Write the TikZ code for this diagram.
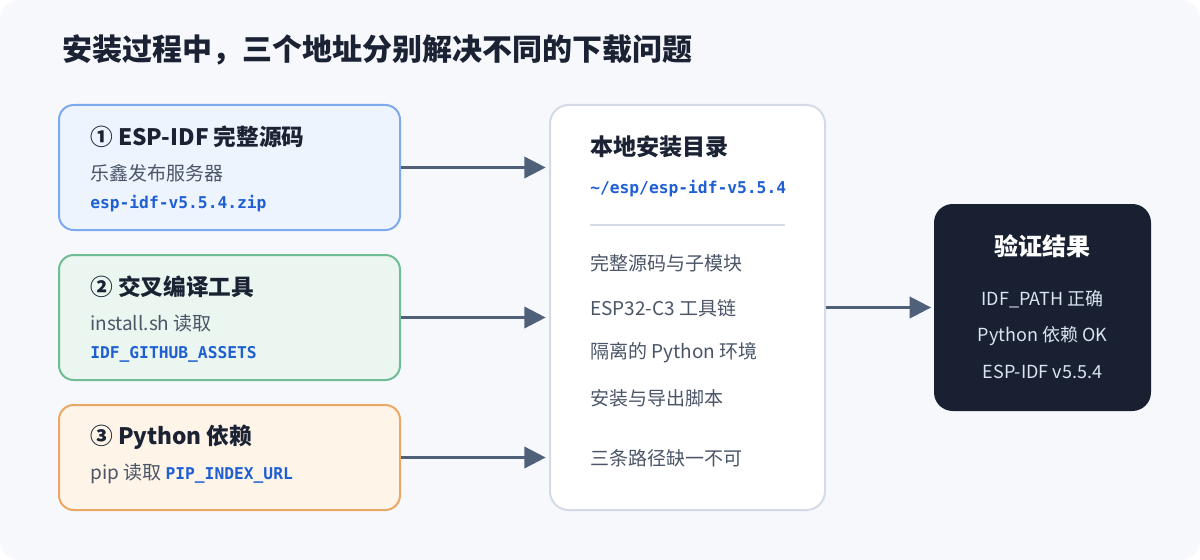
\documentclass[tikz,border=0pt]{standalone}
\usepackage{fontspec}
\setmainfont{Noto Sans CJK SC}
\setmonofont{DejaVu Sans Mono}
\usetikzlibrary{arrows.meta}
\definecolor{bgc}{HTML}{F7F8FC}
\definecolor{ink}{HTML}{1A2233}
\definecolor{sub}{HTML}{4A5568}
\definecolor{code}{HTML}{1F5FD4}
\definecolor{arr}{HTML}{4F6079}
\definecolor{bluefill}{HTML}{EEF4FE}
\definecolor{bluedraw}{HTML}{7EA9EE}
\definecolor{greenfill}{HTML}{EAF6EF}
\definecolor{greendraw}{HTML}{6EBD95}
\definecolor{orangefill}{HTML}{FEF4E8}
\definecolor{orangedraw}{HTML}{EBA864}
\definecolor{centerdraw}{HTML}{D3DBE7}
\definecolor{darkfill}{HTML}{182031}
\definecolor{darktext}{HTML}{DBE4F0}
\tikzset{
  srcbox/.style={rounded corners=11pt, line width=1.5pt, minimum width=255.75pt, minimum height=93.75pt, inner sep=0pt},
  txt/.style={inner sep=0pt, anchor=west},
  boxtitle/.style={txt, text=ink, font=\fontsize{17pt}{20pt}\selectfont\bfseries},
  subtxt/.style={txt, text=sub, font=\fontsize{14.25pt}{17pt}\selectfont},
  codetxt/.style={txt, text=code, font=\fontsize{12.2pt}{14pt}\selectfont\ttfamily\bfseries},
  flow/.style={draw=arr, line width=2pt, -{Triangle[length=16pt,width=16pt]}},
  darktxt/.style={inner sep=0pt, text=darktext, font=\fontsize{13.5pt}{16pt}\selectfont}
}
\begin{document}
\begin{tikzpicture}[x=0.75pt, y=-0.75pt]
\useasboundingbox (0,0) rectangle (1200,560);
\fill[white] (0,0) rectangle (1200,560);
\fill[bgc, rounded corners=15pt] (0,0) rectangle (1200,560);

\node[txt, text=ink, font=\fontsize{22.5pt}{26pt}\selectfont\bfseries] (title) at (62,50) {安装过程中，三个地址分别解决不同的下载问题};

% source boxes
\node[srcbox, draw=bluedraw, fill=bluefill] (b1) at (229.5,167.5) {};
\node[srcbox, draw=greendraw, fill=greenfill] (b2) at (229.5,317.5) {};
\node[srcbox, draw=orangedraw, fill=orangefill, minimum height=78.75pt] (b3) at (229.5,457.5) {};

\node[boxtitle] (t1) at (90,137) {① ESP-IDF 完整源码};
\node[subtxt] (s1) at (90,173.5) {乐鑫发布服务器};
\node[codetxt] (c1) at (90,204) {esp-idf-v5.5.4.zip};

\node[boxtitle] (t2) at (90,287) {② 交叉编译工具};
\node[subtxt] (s2) at (90,323.5) {install.sh 读取};
\node[codetxt] (c2) at (90,354) {IDF\_GITHUB\_ASSETS};

\node[boxtitle] (t3) at (90,437) {③ Python 依赖};
\node[subtxt] (s3) at (90,474) {pip 读取 \textcolor{code}{\fontsize{12.2pt}{14pt}\selectfont\ttfamily\bfseries PIP\_INDEX\_URL}};

% center box
\node[rounded corners=14pt, line width=1.5pt, draw=centerdraw, fill=white, minimum width=206.25pt, minimum height=303.75pt, inner sep=0pt] (c) at (687.5,307.5) {};
\node[txt, text=ink, font=\fontsize{17.3pt}{20pt}\selectfont\bfseries] (ct) at (590,147) {本地安装目录};
\node[codetxt] (cp) at (590,189) {\textasciitilde/esp/esp-idf-v5.5.4};
\coordinate (l1) at (590,225);
\coordinate (l2) at (785,225);
\draw[centerdraw, line width=1.5pt] (l1) -- (l2);
\node[subtxt] (i1) at (590,263) {完整源码与子模块};
\node[subtxt] (i2) at (590,308) {ESP32-C3 工具链};
\node[subtxt] (i3) at (590,353) {隔离的 Python 环境};
\node[subtxt] (i4) at (590,398.5) {安装与导出脚本};
\node[subtxt] (i5) at (590,458) {三条路径缺一不可};

% result box
\node[rounded corners=14pt, fill=darkfill, minimum width=162.75pt, minimum height=155.25pt, inner sep=0pt] (d) at (1042.5,307.5) {};
\node[inner sep=0pt, text=white, font=\fontsize{18pt}{22pt}\selectfont\bfseries] (dt) at (1042.5,246) {验证结果};
\node[darktxt] (d1) at (1042.5,299) {IDF\_PATH 正确};
\node[darktxt] (d2) at (1042.5,336) {Python 依赖 OK};
\node[darktxt] (d3) at (1042.5,372) {ESP-IDF v5.5.4};

% connectors
\draw[flow, shorten >=2.5pt] (b1.east) -- (b1.east -| c.west);
\draw[flow, shorten >=2.5pt] (b2.east) -- (b2.east -| c.west);
\draw[flow, shorten >=2.5pt] (b3.east) -- (b3.east -| c.west);
\draw[flow, shorten >=2pt] (c.east) -- (d.west);
\end{tikzpicture}
\end{document}
